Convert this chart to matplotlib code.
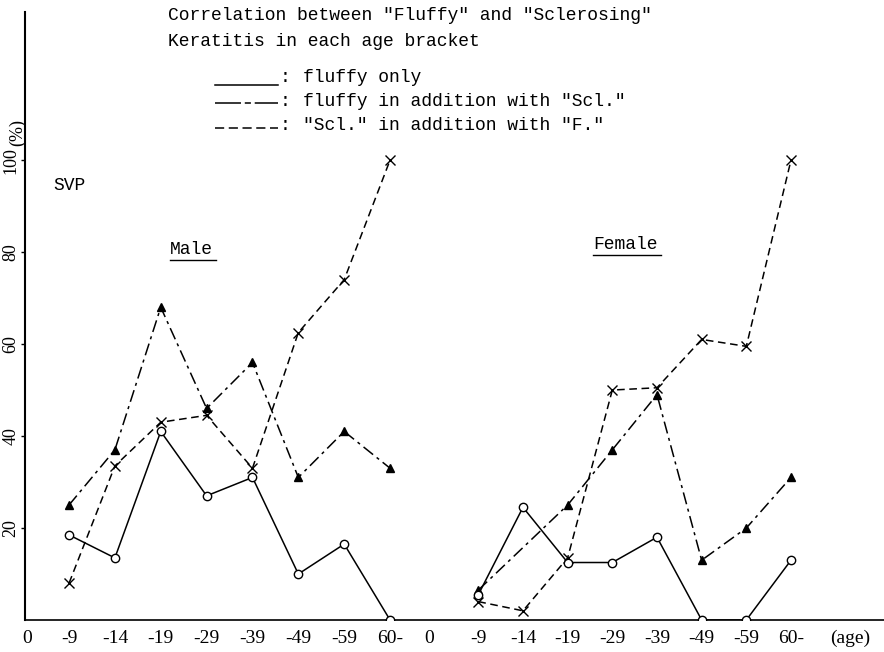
import matplotlib
matplotlib.use('Agg')
import matplotlib.pyplot as plt
import numpy as np
from matplotlib.lines import Line2D

# age brackets (tick labels) for each half of the chart
age_labels = ['0', '-9', '-14', '-19', '-29', '-39', '-49', '-59', '60-']

# Male, values in %
male_fluffy = [18.5, 13.5, 41, 27, 31, 10, 16.5, 0]
male_both = [25, 37, 68, 46, 56, 31, 41, 33]
male_scl = [8, 33.5, 43, 44.5, 33, 62.5, 74, 100]

# Female, values in % (no point drawn for -14 on the dash-dot line)
female_fluffy = [5.5, 24.5, 12.5, 12.5, 18, 0, 0, 13]
female_both = [6.5, np.nan, 25, 37, 49, 13, 20, 31]
female_scl = [4, 2, 13.5, 50, 50.5, 61, 59.5, 100]

y_ticks = [20, 40, 60, 80, 100]

W, H = 884, 652
mono = 'Liberation Mono'
serif = 'Liberation Serif'

def fx(x):
    return x / W

def fy(y):
    return 1 - y / H

fig = plt.figure(figsize=(W / 100, H / 100), dpi=100)
ax = fig.add_axes([fx(25), fy(620), 1 - fx(25), (620 - 12) / H])

# category positions: male 1..8, female slightly compressed after the second "0"
male_zero = 0.09
female_zero = 8.85
male_x = np.arange(1, 9)
female_x = 8.95 + 0.974 * np.arange(1, 9)

solid = dict(color='black', lw=1.1, marker='o', mfc='white', mec='black', ms=6, mew=1.0, zorder=4)
dashdot = dict(color='black', lw=1.1, dashes=(8, 3, 2, 3), marker='^', mfc='black', mec='black', ms=6, zorder=3)
dashed = dict(color='black', lw=1.1, dashes=(5, 3), marker='x', mec='black', ms=7, mew=1.0, zorder=3)

for xs, f, b, s in [(male_x, male_fluffy, male_both, male_scl),
                    (female_x, female_fluffy, female_both, female_scl)]:
    ax.plot(xs, f, **solid)
    b = np.array(b, dtype=float)
    m = ~np.isnan(b)
    ax.plot(xs[m], b[m], **dashdot)
    ax.plot(xs, s, **dashed)

ax.set_xlim(0.04, 18.77)
ax.set_ylim(0, 132.2)

xt = [male_zero] + list(male_x) + [female_zero] + list(female_x) + [18.03]
xl = age_labels + age_labels + ['(age)']
ax.set_xticks(xt)
ax.set_xticklabels(xl, fontfamily=serif, fontsize=14)
ax.tick_params(axis='x', length=0, pad=7)

ax.set_yticks(y_ticks)
ax.set_yticklabels([str(v) for v in y_ticks], fontfamily=serif, fontsize=13,
                   rotation=90, va='center')
ax.tick_params(axis='y', length=3, width=1, pad=1, direction='out')

ax.spines['top'].set_visible(False)
ax.spines['right'].set_visible(False)
ax.spines['left'].set_linewidth(1.5)
ax.spines['bottom'].set_linewidth(1.2)

fig.text(fx(18), fy(132), '(%)', fontfamily=serif, fontsize=13, rotation=90,
         ha='center', va='center')

# title block
fig.text(fx(168), fy(15), 'Correlation between "Fluffy" and "Sclerosing"',
         fontfamily=mono, fontsize=13, va='center')
fig.text(fx(168), fy(42), 'Keratitis in each age bracket',
         fontfamily=mono, fontsize=13, va='center')

# legend written like the typed original: ______ , —-— , -----
leg_rows = [(77, 85, 'fluffy only', None),
            (101, 103, 'fluffy in addition with "Scl."', (17, 2.5, 4, 2.5, 17, 3)),
            (126, 128, '"Scl." in addition with "F."', (6, 3))]
for ty, ly, txt, ds in leg_rows:
    kw = dict(color='black', lw=1.1)
    if ds is not None:
        kw['dashes'] = ds
    fig.add_artist(Line2D([fx(215), fx(278)], [fy(ly), fy(ly)],
                          transform=fig.transFigure, **kw))
    fig.text(fx(280), fy(ty), ':', fontfamily=mono, fontsize=13, va='center')
    fig.text(fx(303), fy(ty), txt, fontfamily=mono, fontsize=13, va='center')

fig.text(fx(53), fy(186), 'SVP', fontfamily=mono, fontsize=13, va='center')

fig.text(fx(170), fy(250), 'Male', fontfamily=mono, fontsize=13, va='center')
fig.add_artist(Line2D([fx(170), fx(216)], [fy(260), fy(260)],
                      transform=fig.transFigure, color='black', lw=1))
fig.text(fx(593), fy(245), 'Female', fontfamily=mono, fontsize=13, va='center')
fig.add_artist(Line2D([fx(593), fx(661)], [fy(255), fy(255)],
                      transform=fig.transFigure, color='black', lw=1))

plt.savefig('out.png', dpi=100)
